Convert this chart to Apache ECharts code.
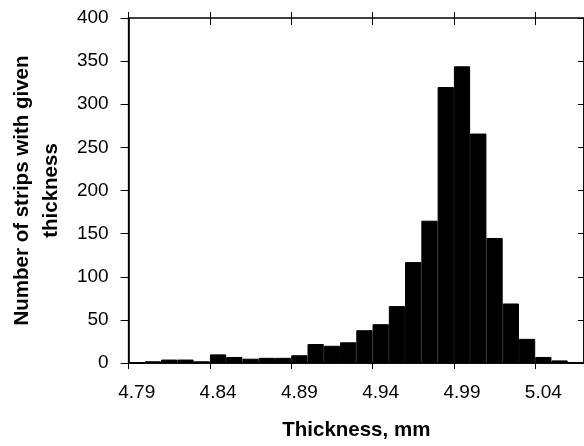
<!DOCTYPE html>
<html>
<head>
<meta charset="utf-8">
<script src="https://cdn.jsdelivr.net/npm/echarts@6/dist/echarts.min.js"></script>
<style>
html,body{margin:0;padding:0;background:#fff;}
#c{width:584px;height:446px;}
</style>
</head>
<body>
<div id="c"></div>
<script>
var categories = ["4.79","4.80","4.81","4.82","4.83","4.84","4.85","4.86","4.87","4.88",
                  "4.89","4.90","4.91","4.92","4.93","4.94","4.95","4.96","4.97","4.98",
                  "4.99","5.00","5.01","5.02","5.03","5.04","5.05","5.06"];
var counts = [0, 2, 4, 4, 2, 10, 7, 5, 6, 6,
              9, 22, 20, 24, 38, 45, 66, 117, 165, 320,
              344, 266, 145, 69, 28, 7, 3, 1];
var yTicks = {min: 0, max: 400, step: 50};
var xTitle = "Thickness, mm";
var yTitle = "Number of strips with given\nthickness";

var FONT = "'Liberation Sans', Arial, sans-serif";
var chart = echarts.init(document.getElementById('c'), null, {renderer: 'canvas'});
chart.setOption({
  animation: false,
  backgroundColor: '#fff',
  grid: {left: 124, top: 18, right: -3, bottom: 81, containLabel: false,
         show: true, borderColor: '#000', borderWidth: 1.5, backgroundColor: 'transparent'},
  xAxis: [
    {
      type: 'category', data: categories, position: 'bottom', boundaryGap: true,
      axisLine: {show: true, onZero: false, lineStyle: {color: '#000', width: 1.5}},
      axisTick: {show: true, interval: 4, inside: false, length: 6, lineStyle: {color: '#000', width: 1}},
      axisLabel: {interval: 4, margin: 20, fontFamily: FONT, fontSize: 19, color: '#000'},
      name: xTitle, nameLocation: 'middle', nameGap: 57,
      nameTextStyle: {fontFamily: FONT, fontSize: 20.5, fontWeight: 'bold', color: '#000'}
    },
    {
      type: 'category', data: categories, position: 'top', offset: 6, boundaryGap: true,
      axisLine: {show: false, onZero: false},
      axisTick: {show: true, interval: 4, inside: true, length: 13, lineStyle: {color: '#000', width: 1}},
      axisLabel: {show: false}
    }
  ],
  yAxis: [
    {
      type: 'value', min: yTicks.min, max: yTicks.max, interval: yTicks.step, position: 'left',
      splitLine: {show: false},
      axisLine: {show: true, onZero: false, lineStyle: {color: '#000', width: 1.5}},
      axisTick: {show: true, inside: false, length: 8, lineStyle: {color: '#000', width: 1}},
      axisLabel: {margin: 20, fontFamily: FONT, fontSize: 19, color: '#000'},
      name: yTitle, nameLocation: 'middle', nameGap: 60, nameRotate: 90,
      nameTextStyle: {fontFamily: FONT, fontSize: 20.5, fontWeight: 'bold', color: '#000', lineHeight: 29, align: 'center'}
    },
    {
      type: 'value', min: yTicks.min, max: yTicks.max, interval: yTicks.step, position: 'right',
      splitLine: {show: false},
      axisLine: {show: true, onZero: false, lineStyle: {color: '#000', width: 1.5}},
      axisTick: {show: true, inside: true, length: 6, lineStyle: {color: '#000', width: 1}},
      axisLabel: {show: false}
    }
  ],
  series: [{
    type: 'bar', xAxisIndex: 0, yAxisIndex: 0, data: counts,
    barCategoryGap: '0%', barGap: '0%',
    itemStyle: {color: '#000', borderColor: '#000', borderWidth: 1}
  }]
});
</script>
</body>
</html>
